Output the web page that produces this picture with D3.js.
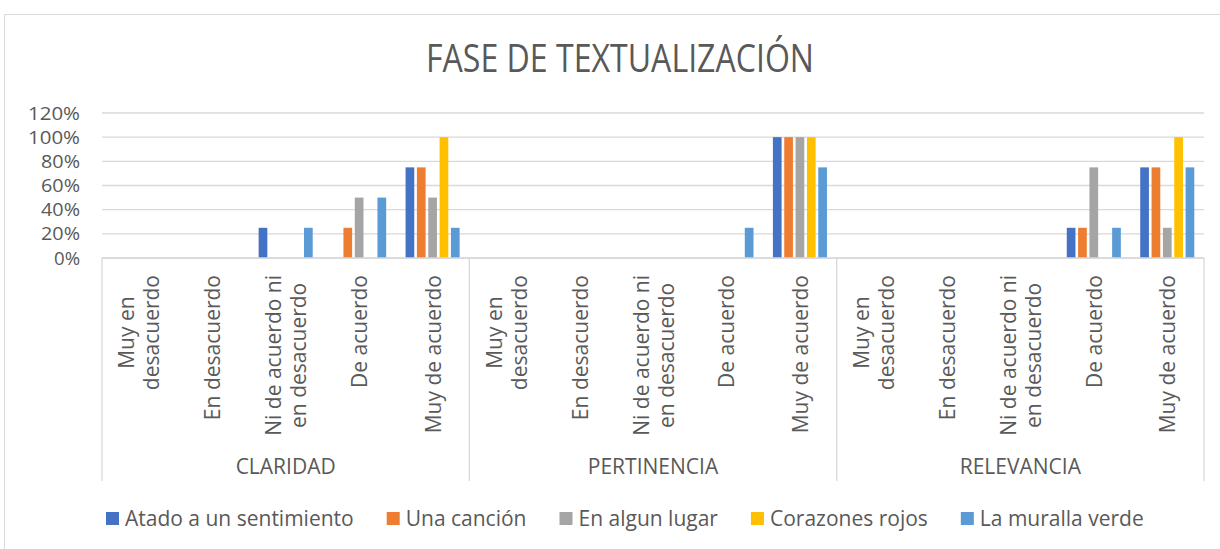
<!DOCTYPE html>
<html><head><meta charset="utf-8">
<script src="https://cdn.jsdelivr.net/npm/d3@7"></script>
<style>
html,body{margin:0;padding:0;background:#fff;}
svg{display:block;font-family:"Open Sans",sans-serif;}
</style></head>
<body><svg id="c" width="1220" height="549"></svg>
<script>
const title = "FASE DE TEXTUALIZACIÓN";
const groups = ["CLARIDAD", "PERTINENCIA", "RELEVANCIA"];
const levels = ["Muy en desacuerdo", "En desacuerdo", "Ni de acuerdo ni en desacuerdo", "De acuerdo", "Muy de acuerdo"];
const levelLines = [["Muy en", "desacuerdo"], ["En desacuerdo"], ["Ni de acuerdo ni", "en desacuerdo"], ["De acuerdo"], ["Muy de acuerdo"]];
const seriesNames = ["Atado a un sentimiento", "Una canción", "En algun lugar", "Corazones rojos", "La muralla verde"];
const colors = ["#4472C4", "#ED7D31", "#A5A5A5", "#FFC000", "#5B9BD5"];
const yTicks = [0, 0.2, 0.4, 0.6, 0.8, 1.0, 1.2];
// values per series, in order: CLARIDAD (5 levels), PERTINENCIA (5), RELEVANCIA (5)
const atado     = [0, 0, 0.25, 0,    0.75,  0, 0, 0, 0,    1,     0, 0, 0, 0.25, 0.75];
const cancion   = [0, 0, 0,    0.25, 0.75,  0, 0, 0, 0,    1,     0, 0, 0, 0.25, 0.75];
const lugar     = [0, 0, 0,    0.5,  0.5,   0, 0, 0, 0,    1,     0, 0, 0, 0.75, 0.25];
const corazones = [0, 0, 0,    0,    1,     0, 0, 0, 0,    1,     0, 0, 0, 0,    1];
const muralla   = [0, 0, 0.25, 0.5,  0.25,  0, 0, 0, 0.25, 0.75,  0, 0, 0, 0.25, 0.75];
const seriesValues = [atado, cancion, lugar, corazones, muralla];

const svg = d3.select("#c");
const txt = "#595959", grid = "#d9d9d9";
const L = 102, R = 1204, T = 113, B = 258;
const fs = 21;

// chart border
svg.append("path").attr("d", "M4.5,549 V14.5 H1220").attr("fill", "none").attr("stroke", grid).attr("stroke-width", 1);

// title
svg.append("text").attr("x", 620).attr("y", 72).attr("text-anchor", "middle")
  .attr("font-size", 39).attr("fill", txt)
  .attr("textLength", 388).attr("lengthAdjust", "spacingAndGlyphs").text(title);

const cats = [];
groups.forEach(g => levels.forEach(l => cats.push(g + "|" + l)));

const x0 = d3.scaleBand().domain(cats).range([L, R]).padding(0);
const xg = d3.scaleBand().domain(groups).range([L, R]).padding(0);
const bw = x0.bandwidth();
const x1 = d3.scaleBand().domain(seriesNames).range([bw * 0.132, bw * 0.868]).paddingInner(0.233).paddingOuter(0);
const y = d3.scaleLinear().domain([0, 1.2]).range([B, T]);

// gridlines
svg.append("g").selectAll("line").data(yTicks).join("line")
  .attr("x1", L).attr("x2", R).attr("y1", d => y(d)).attr("y2", d => y(d))
  .attr("stroke", grid).attr("stroke-width", 1.3);

// y axis labels
const yAxis = d3.axisLeft(y).tickValues(yTicks).tickFormat(d3.format(".0%")).tickSize(0).tickPadding(0);
const ya = svg.append("g").attr("transform", "translate(80,0)").call(yAxis);
ya.select(".domain").remove();
ya.selectAll("text").attr("font-size", 19).attr("fill", txt).attr("font-family", "'Open Sans',sans-serif")
  .attr("textLength", 52).attr("lengthAdjust", "spacingAndGlyphs")
  .each(function(d) { const n = d3.format(".0%")(d).length; d3.select(this).attr("textLength", n * 13); });

// bars
const barG = svg.append("g");
seriesNames.forEach((s, si) => {
  barG.append("g").selectAll("rect").data(seriesValues[si].map((v, i) => ({ c: cats[i], v }))).join("rect")
    .attr("x", d => x0(d.c) + x1(s)).attr("width", x1.bandwidth())
    .attr("y", d => y(d.v)).attr("height", d => y(0) - y(d.v))
    .attr("fill", colors[si]);
});

// x axis line
svg.append("line").attr("x1", L).attr("x2", R).attr("y1", B).attr("y2", B).attr("stroke", grid).attr("stroke-width", 1.3);
// group separators
const seps = groups.map(g => xg(g)).concat([R]);
svg.append("g").selectAll("line").data(seps).join("line")
  .attr("x1", d => d).attr("x2", d => d).attr("y1", B).attr("y2", 481)
  .attr("stroke", grid).attr("stroke-width", 1.3);

// category labels (rotated)
const lh = 25;
cats.forEach((c, i) => {
  const lines = levelLines[i % 5];
  const cx = x0(c) + bw / 2;
  const g = svg.append("g").attr("transform", `translate(${cx},275) rotate(-90)`);
  const ts = lines.map((ln, k) => g.append("text").attr("font-size", fs).attr("fill", txt)
      .attr("dominant-baseline", "central").attr("text-anchor", "middle")
      .attr("y", (k - (lines.length - 1) / 2) * lh).text(ln));
  const W = d3.max(ts, t => t.node().getComputedTextLength());
  ts.forEach(t => t.attr("x", -W / 2));
});

// group labels
svg.append("g").selectAll("text").data(groups).join("text")
  .attr("x", d => xg(d) + xg.bandwidth() / 2).attr("y", 474).attr("text-anchor", "middle")
  .attr("font-size", fs).attr("fill", txt).text(d => d);

// legend
const lg = svg.append("g");
let lx = 106;
seriesNames.forEach((s, i) => {
  lg.append("rect").attr("x", lx).attr("y", 512).attr("width", 13).attr("height", 13).attr("fill", colors[i]);
  const t = lg.append("text").attr("x", lx + 19).attr("y", 526).attr("font-size", fs).attr("fill", txt).text(s);
  lx += 19 + t.node().getComputedTextLength() + 33;
});
</script></body></html>
